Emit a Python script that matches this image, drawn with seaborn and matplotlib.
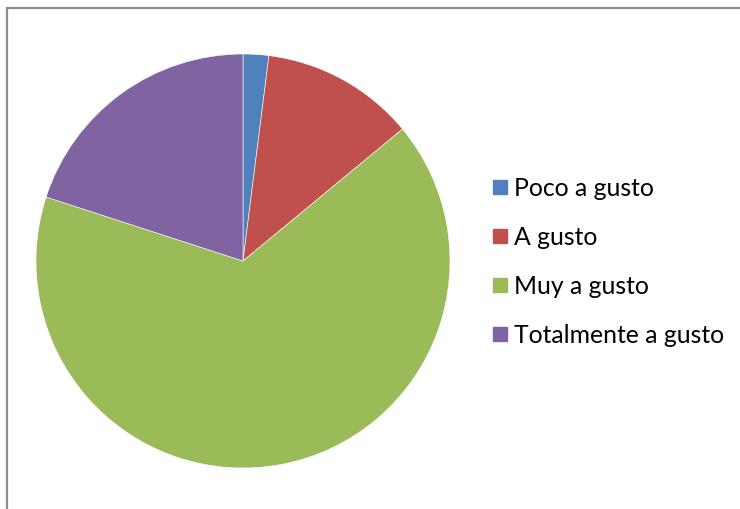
import matplotlib
matplotlib.use("Agg")
import matplotlib.pyplot as plt
from matplotlib.lines import Line2D
import seaborn as sns

categories = ["Poco a gusto", "A gusto", "Muy a gusto", "Totalmente a gusto"]
shares = [2, 12, 66, 20]
colors = ["#4F81BD", "#C0504D", "#9BBB59", "#8064A2"]

sns.set_theme(style="white")
plt.rcParams["font.family"] = ["Lato", "DejaVu Sans"]
palette = sns.color_palette(colors)

W, H = 740, 509
fig = plt.figure(figsize=(W / 100, H / 100), dpi=100)
fig.patch.set_facecolor("white")

# outer chart frame (top and left edges)
fig.add_artist(Line2D([7 / W, 7 / W], [0, 1 - 7.5 / H], transform=fig.transFigure,
                      color="#8c8c8c", lw=1.6))
fig.add_artist(Line2D([7 / W, 1], [1 - 7.5 / H, 1 - 7.5 / H], transform=fig.transFigure,
                      color="#8c8c8c", lw=1.6))

cx, cy, r = 243, 261, 207
ax = fig.add_axes([(cx - r) / W, (H - cy - r) / H, 2 * r / W, 2 * r / H])
wedges, _ = ax.pie(shares, colors=palette, startangle=90, counterclock=False,
                   radius=1.0, wedgeprops=dict(edgecolor="white", linewidth=0.4))
ax.set_xlim(-1, 1)
ax.set_ylim(-1, 1)
ax.set_aspect("equal")
ax.axis("off")

handles = [Line2D([], [], marker="s", linestyle="none", markersize=9.4,
                  markerfacecolor=c, markeredgecolor=c) for c in palette]
leg = fig.legend(handles, categories, loc="upper left",
                 bbox_to_anchor=(493 / W, 1 - 177 / H), frameon=False,
                 fontsize=17.8, handlelength=0.55, handletextpad=0.3,
                 labelspacing=1.05, borderpad=0, borderaxespad=0)
for t in leg.get_texts():
    t.set_color("black")

fig.savefig("out.png", dpi=100, facecolor="white")
